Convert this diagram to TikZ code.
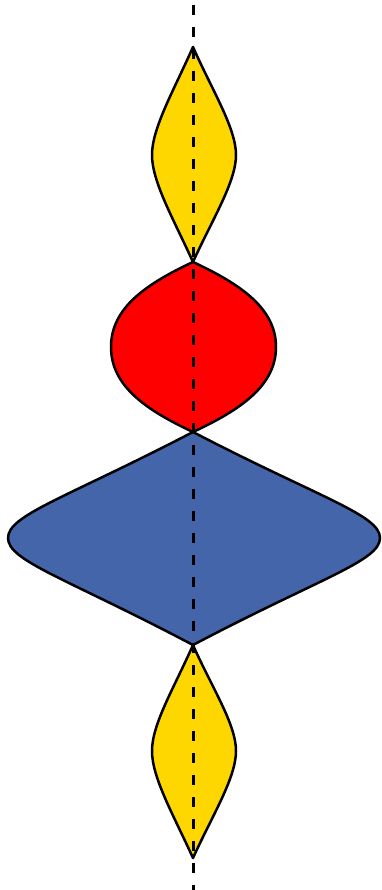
\documentclass[tikz,border=0pt]{standalone}
\definecolor{lensyellow}{RGB}{255,215,0}
\definecolor{lensred}{RGB}{255,0,0}
\definecolor{lensblue}{RGB}{69,101,170}
\tikzset{
  lens/.style={draw=black, line width=2.5pt, line join=round},
  axis/.style={line width=3pt, dash pattern=on 10pt off 12pt, dash phase=17pt}
}
\begin{document}
\begin{tikzpicture}[x=1pt, y=-1pt]
    \useasboundingbox (0,0) rectangle (381,890);

    % Upper yellow lens
    \filldraw[lens, fill=lensyellow] (193,47)
      .. controls (212,90) and (236,128) .. (236,155)
      .. controls (236,182) and (212,220) .. (193,262)
      .. controls (174,220) and (152,182) .. (152,155)
      .. controls (152,128) and (174,90) .. (193,47) -- cycle;

    % Red lens
    \filldraw[lens, fill=lensred] (193,262)
      .. controls (240,284) and (276,308) .. (276,347)
      .. controls (276,386) and (240,410) .. (193,432)
      .. controls (146,410) and (111,386) .. (111,347)
      .. controls (111,308) and (146,284) .. (193,262) -- cycle;

    % Blue lens
    \filldraw[lens, fill=lensblue] (193,432)
      .. controls (320,498) and (380,515) .. (380,538)
      .. controls (380,561) and (320,578) .. (193,645)
      .. controls (66,578) and (8,561) .. (8,538)
      .. controls (8,515) and (66,498) .. (193,432) -- cycle;

    % Lower yellow lens
    \filldraw[lens, fill=lensyellow] (193,645)
      .. controls (212,688) and (236,724) .. (236,751)
      .. controls (236,778) and (212,816) .. (193,858)
      .. controls (174,816) and (152,778) .. (152,751)
      .. controls (152,724) and (174,688) .. (193,645) -- cycle;

    % Optical axis
    \coordinate (top) at (193,0);
    \coordinate (bottom) at (193,890);
    \draw[axis] (top) -- (bottom);
  \end{tikzpicture}
\end{document}
